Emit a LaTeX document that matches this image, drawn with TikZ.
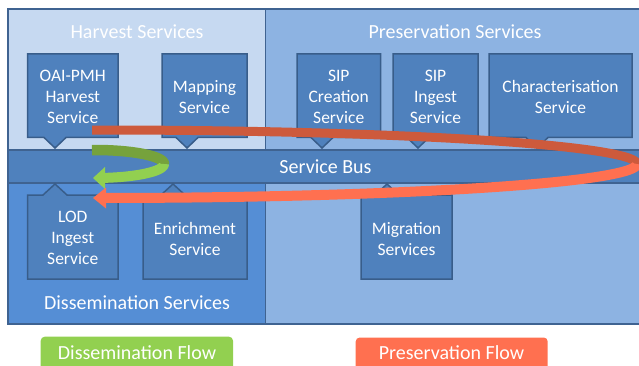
\documentclass[tikz,border=0pt]{standalone}
\usepackage{fontspec}
\setmainfont{Carlito}
\definecolor{harvfill}{HTML}{C6D9F1}
\definecolor{presfill}{HTML}{8DB3E2}
\definecolor{dissfill}{HTML}{558ED5}
\definecolor{busfill}{HTML}{4F81BD}
\definecolor{boxfill}{HTML}{4F81BD}
\definecolor{boxline}{HTML}{385D8A}
\definecolor{frameline}{HTML}{3F6391}
\definecolor{reddark}{HTML}{CD5A3C}
\definecolor{redlight}{HTML}{FF7050}
\definecolor{greendark}{HTML}{76A23C}
\definecolor{greenlight}{HTML}{92D050}
\tikzset{
  region/.style={draw=frameline, line width=1.5pt},
  svcbox/.style={fill=boxfill, draw=boxline, line width=1.5pt, line join=miter},
  boxtext/.style={text=white, inner sep=0pt, align=center, anchor=north, font=\fontsize{17.5}{21}\selectfont},
  titletext/.style={text=white, inner sep=0pt, anchor=base, font=\fontsize{20}{24}\selectfont},
  legendbox/.style={rounded corners=4pt},
}
\begin{document}
\begin{tikzpicture}[x=1pt, y=-1pt]
\useasboundingbox (0,0) rectangle (639,366);
\begin{scope}
\clip (0,0) rectangle (639,366);
% regions
\path[region, fill=presfill] (265.5,9) rectangle (660,324);
\path[region, fill=harvfill] (8,9) rectangle (265.5,150);
\path[region, fill=dissfill] (8,183) rectangle (265.5,324);
\path[region, fill=busfill] (8,150) rectangle (660,183);

% service boxes with pointers (down)
\path[svcbox] (27.5,54) -- (118,54) -- (118,137.5) -- (66,137.5) -- (55,148) -- (44,137.5) -- (27.5,137.5) -- cycle;
\path[svcbox] (162,54) -- (247,54) -- (247,137.5) -- (198,137.5) -- (187,148) -- (176,137.5) -- (162,137.5) -- cycle;
\path[svcbox] (297,54) -- (380.5,54) -- (380.5,137.5) -- (333,137.5) -- (322,148) -- (311,137.5) -- (297,137.5) -- cycle;
\path[svcbox] (393,54) -- (478,54) -- (478,137.5) -- (429,137.5) -- (418,148) -- (407,137.5) -- (393,137.5) -- cycle;
\path[svcbox] (489,54) -- (632,54) -- (632,137.5) -- (548,137.5) -- (537,148) -- (526,137.5) -- (489,137.5) -- cycle;
% service boxes with pointers (up)
\path[svcbox] (27.5,195) -- (43,195) -- (55,184) -- (67,195) -- (118,195) -- (118,279) -- (27.5,279) -- cycle;
\path[svcbox] (143,195) -- (161,195) -- (173,184) -- (185,195) -- (247,195) -- (247,279) -- (143,279) -- cycle;
\path[svcbox] (361,195) -- (375,195) -- (387,184) -- (399,195) -- (452,195) -- (452,279) -- (361,279) -- cycle;

% titles
\node[titletext] (harvt) at (137,39) {Harvest Services};
\node[titletext] (prest) at (455,39) {Preservation Services};
\node[titletext] (bust) at (325.5,173) {Service Bus};
\node[titletext] (disst) at (137,309) {Dissemination Services};

% box texts
\node[boxtext] (oai) at (72.75,70.4) {OAI-PMH\\Harvest\\Service};
\node[boxtext] (map) at (204.5,80.7) {Mapping\\Service};
\node[boxtext] (sipc) at (338.75,70.4) {SIP\\Creation\\Service};
\node[boxtext] (sipi) at (435.5,70.4) {SIP\\Ingest\\Service};
\node[boxtext] (char) at (560.5,80.2) {Characterisation\\Service};
\node[boxtext] (lod) at (72.75,210.7) {LOD\\Ingest\\Service};
\node[boxtext] (enr) at (195,221.7) {Enrichment\\Service};
\node[boxtext] (mig) at (406.5,221.7) {Migration\\Services};

% preservation flow (red loop)
\coordinate (redtip) at (93,198);
\coordinate (greentip) at (93,178);
\draw[reddark, line width=9pt] plot[domain=90.85:-1, samples=80] ({100+537*cos(\x)}, {164-34*sin(\x)});
% dissemination flow (green loop)
\draw[greendark, line width=10.5pt] plot[domain=92.5:-1, samples=50] ({95+69*cos(\x)}, {164-14*sin(\x)});
\draw[greenlight, line width=10pt] plot[domain=0:-81.7, samples=50] ({95+69*cos(\x)}, {164-14*sin(\x)});
\fill[greenlight] (greentip) -- ++(12,-11) -- ++(0,22) -- cycle;
\draw[redlight, line width=10pt] plot[domain=0:-89.36, samples=80] ({100+537*cos(\x)}, {164-34*sin(\x)});
\fill[redlight] (redtip) -- ++(13,-10.5) -- ++(0,21) -- cycle;

% legend
\fill[greenlight, legendbox] (40.7,336.7) rectangle (233,380);
\fill[redlight, legendbox] (355.7,337.5) rectangle (547.7,380);
\node[titletext] (dflow) at (137,359) {Dissemination Flow};
\node[titletext] (pflow) at (451.5,359) {Preservation Flow};
\end{scope}
\end{tikzpicture}
\end{document}
